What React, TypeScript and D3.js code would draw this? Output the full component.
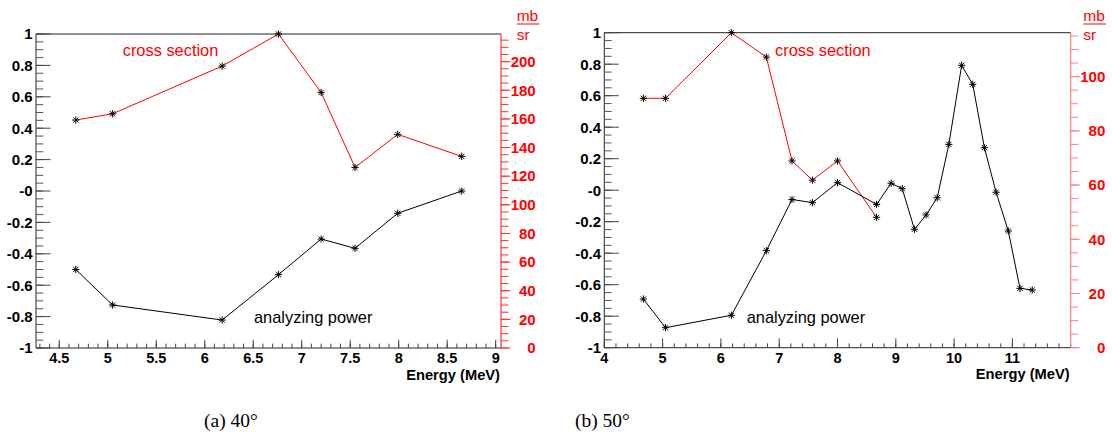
import React from "react";
import * as d3 from "d3";

// 40 degrees
const energiesCs40 = [4.67, 5.05, 6.18, 6.76, 7.2, 7.55, 7.99, 8.65];
const crossSection40 = [159.2, 163.6, 196.9, 219.3, 178.5, 126.1, 149.2, 133.8];
const energiesAp40 = [4.67, 5.05, 6.18, 6.76, 7.2, 7.55, 7.99, 8.65];
const analyzingPower40 = [-0.5, -0.726, -0.822, -0.533, -0.306, -0.365, -0.142, 0.0];

// 50 degrees
const energiesCs50 = [4.67, 5.05, 6.18, 6.78, 7.22, 7.57, 8.0, 8.67];
const crossSection50 = [92.0, 92.0, 116.2, 107.2, 68.9, 61.8, 68.9, 48.1];
const energiesAp50 = [
  4.67, 5.05, 6.18, 6.78, 7.22, 7.57, 8.0, 8.67, 8.92, 9.11, 9.32, 9.52, 9.71,
  9.91, 10.13, 10.32, 10.52, 10.72, 10.93, 11.13, 11.34,
];
const analyzingPower50 = [
  -0.691, -0.873, -0.794, -0.384, -0.059, -0.079, 0.048, -0.09, 0.044, 0.01,
  -0.248, -0.157, -0.048, 0.291, 0.793, 0.672, 0.27, -0.013, -0.259, -0.623,
  -0.634,
];

// Axis labels
const apTickValues = [1, 0.8, 0.6, 0.4, 0.2, 0, -0.2, -0.4, -0.6, -0.8, -1];
const apTickLabels = ["1", "0.8", "0.6", "0.4", "0.2", "-0", "-0.2", "-0.4", "-0.6", "-0.8", "-1"];
const energyTicks40 = [4.5, 5, 5.5, 6, 6.5, 7, 7.5, 8, 8.5, 9];
const energyTickLabels40 = ["4.5", "5", "5.5", "6", "6.5", "7", "7.5", "8", "8.5", "9"];
const energyTicks50 = [4, 5, 6, 7, 8, 9, 10, 11];
const energyTickLabels50 = ["4", "5", "6", "7", "8", "9", "10", "11"];
const csTicks40 = [0, 20, 40, 60, 80, 100, 120, 140, 160, 180, 200];
const csTicks50 = [0, 20, 40, 60, 80, 100];

const SANS = "'Liberation Sans', Arial, Helvetica, sans-serif";
const SERIF = "'Liberation Serif', 'Times New Roman', serif";

type PanelProps = {
  x0: number;
  x1: number;
  y0: number;
  y1: number;
  xDomain: [number, number];
  xMinorStep: number;
  xMajorLen: number;
  xTicks: number[];
  xTickLabels: string[];
  csE: number[];
  cs: number[];
  apE: number[];
  ap: number[];
  csTicks: number[];
  rightLabelX: number;
  rightAxisColor: string;
  unitX: number;
  csLabel: [number, number];
  apLabel: [number, number];
  caption: string;
  captionX: number;
};

function Asterisk({ x, y }: { x: number; y: number }) {
  const r = 3.6;
  const d = 2.6;
  return (
    <g stroke="#000" strokeWidth={1}>
      <line x1={x - r} y1={y} x2={x + r} y2={y} />
      <line x1={x} y1={y - r} x2={x} y2={y + r} />
      <line x1={x - d} y1={y - d} x2={x + d} y2={y + d} />
      <line x1={x - d} y1={y + d} x2={x + d} y2={y - d} />
    </g>
  );
}

function Panel(p: PanelProps) {
  const x = d3.scaleLinear().domain(p.xDomain).range([p.x0, p.x1]);
  const yAp = d3.scaleLinear().domain([-1, 1]).range([p.y1, p.y0]);
  const csMax = d3.max(p.cs) as number;
  const yCs = d3.scaleLinear().domain([0, csMax]).range([p.y1, p.y0]);

  const csPts: [number, number][] = p.cs.map((v, i) => [x(p.csE[i]), yCs(v)]);
  const apPts: [number, number][] = p.ap.map((v, i) => [x(p.apE[i]), yAp(v)]);
  const line = d3.line();

  const xMinor = d3
    .range(Math.ceil(p.xDomain[0] / p.xMinorStep - 1e-6), Math.floor(p.xDomain[1] / p.xMinorStep + 1e-6) + 1)
    .map((k) => k * p.xMinorStep);
  const apMinor = d3.range(-20, 21).map((k) => k * 0.05);
  const csMinor = d3.range(0, Math.floor(csMax / 5) + 1).map((k) => k * 5);

  return (
    <g>
      {/* frame */}
      <line x1={p.x0} y1={p.y0} x2={p.x1} y2={p.y0} stroke="#222" strokeWidth={1} />
      <line x1={p.x0} y1={p.y0} x2={p.x0} y2={p.y1} stroke="#222" strokeWidth={1} />
      <line x1={p.x0} y1={p.y1} x2={p.x1} y2={p.y1} stroke="#222" strokeWidth={1} />

      {/* energy axis ticks */}
      {xMinor.map((v, i) => (
        <line key={"xm" + i} x1={x(v)} x2={x(v)} y1={p.y1} y2={p.y1 - 4.3} stroke="#444" />
      ))}
      {p.xTicks.map((v, i) => (
        <g key={"xt" + i}>
          <line x1={x(v)} x2={x(v)} y1={p.y1} y2={p.y1 - p.xMajorLen} stroke="#444" />
          <text
            x={x(v)}
            y={p.y1 + 15}
            textAnchor="middle"
            fontFamily={SANS}
            fontWeight="bold"
            fontSize={14.5}
            fill="#000"
          >
            {p.xTickLabels[i]}
          </text>
        </g>
      ))}
      <text
        x={p.x1 - 1}
        y={p.y1 + 31.5}
        textAnchor="end"
        fontFamily={SANS}
        fontWeight="bold"
        fontSize={14.7}
        fill="#000"
      >
        Energy (MeV)
      </text>

      {/* analyzing power axis */}
      {apMinor.map((v, i) => (
        <line key={"am" + i} x1={p.x0} x2={p.x0 + 7.3} y1={yAp(v)} y2={yAp(v)} stroke="#555" />
      ))}
      {apTickValues.map((v, i) => (
        <g key={"at" + i}>
          <line x1={p.x0} x2={p.x0 + 14.5} y1={yAp(v)} y2={yAp(v)} stroke="#444" />
          <text
            x={p.x0 - 3.3}
            y={yAp(v) + 5.3}
            textAnchor="end"
            fontFamily={SANS}
            fontWeight="bold"
            fontSize={15}
            fill="#000"
          >
            {apTickLabels[i]}
          </text>
        </g>
      ))}

      {/* cross section axis */}
      <line x1={p.x1} y1={p.y0} x2={p.x1} y2={p.y1} stroke={p.rightAxisColor} strokeWidth={1.2} />
      {csMinor.map((v, i) => (
        <line key={"cm" + i} x1={p.x1} x2={p.x1 + 7.5} y1={yCs(v)} y2={yCs(v)} stroke={p.rightAxisColor} />
      ))}
      {p.csTicks.map((v, i) => (
        <g key={"ct" + i}>
          <line x1={p.x1} x2={p.x1 + 9.5} y1={yCs(v)} y2={yCs(v)} stroke={p.rightAxisColor} />
          <text
            x={p.rightLabelX}
            y={yCs(v) + 5.3}
            textAnchor="end"
            fontFamily={SANS}
            fontWeight="bold"
            fontSize={15}
            fill="#ff0000"
          >
            {v}
          </text>
        </g>
      ))}
      <text x={p.unitX} y={20.5} fontFamily={SANS} fontSize={15.5} fill="#ff0000">
        mb
      </text>
      <line x1={p.unitX} x2={p.unitX + 22.6} y1={24} y2={24} stroke="#ff0000" strokeWidth={1} />
      <text x={p.unitX} y={40} fontFamily={SANS} fontSize={15.5} fill="#ff0000">
        sr
      </text>

      {/* series */}
      <path d={line(csPts) || ""} fill="none" stroke="#ff0000" strokeWidth={1} />
      <path d={line(apPts) || ""} fill="none" stroke="#000" strokeWidth={1} />
      {csPts.map(([cx, cy], i) => (
        <Asterisk key={"cp" + i} x={cx} y={cy} />
      ))}
      {apPts.map(([cx, cy], i) => (
        <Asterisk key={"ap" + i} x={cx} y={cy} />
      ))}

      <text x={p.csLabel[0]} y={p.csLabel[1]} fontFamily={SANS} fontSize={16.4} fill="#ff0000">
        cross section
      </text>
      <text x={p.apLabel[0]} y={p.apLabel[1]} fontFamily={SANS} fontSize={16.4} fill="#000">
        analyzing power
      </text>

      <text x={p.captionX} y={427} fontFamily={SERIF} fontSize={19.5} fill="#000">
        {p.caption}
      </text>
    </g>
  );
}

export default function App() {
  return (
    <svg
      width={1112}
      height={439}
      style={{ position: "absolute", left: 0, top: 0, background: "#fff" }}
    >
      <rect width={1112} height={439} fill="#fff" />
      <Panel
        x0={36}
        x1={501}
        y0={34}
        y1={348}
        xDomain={[4.26, 9.055]}
        xMinorStep={0.1}
        xMajorLen={8.3}
        xTicks={energyTicks40}
        xTickLabels={energyTickLabels40}
        csE={energiesCs40}
        cs={crossSection40}
        apE={energiesAp40}
        ap={analyzingPower40}
        csTicks={csTicks40}
        rightLabelX={535.7}
        rightAxisColor="#ff3030"
        unitX={516.7}
        csLabel={[122.7, 55.5]}
        apLabel={[254, 322.5]}
        caption="(a) 40°"
        captionX={204}
      />
      <Panel
        x0={604.3}
        x1={1070.7}
        y0={32.7}
        y1={347.7}
        xDomain={[4, 12]}
        xMinorStep={0.2}
        xMajorLen={9.3}
        xTicks={energyTicks50}
        xTickLabels={energyTickLabels50}
        csE={energiesCs50}
        cs={crossSection50}
        apE={energiesAp50}
        ap={analyzingPower50}
        csTicks={csTicks50}
        rightLabelX={1105.3}
        rightAxisColor="#ff8080"
        unitX={1083.3}
        csLabel={[775, 55.5]}
        apLabel={[746.7, 322.5]}
        caption="(b) 50°"
        captionX={575}
      />
    </svg>
  );
}
